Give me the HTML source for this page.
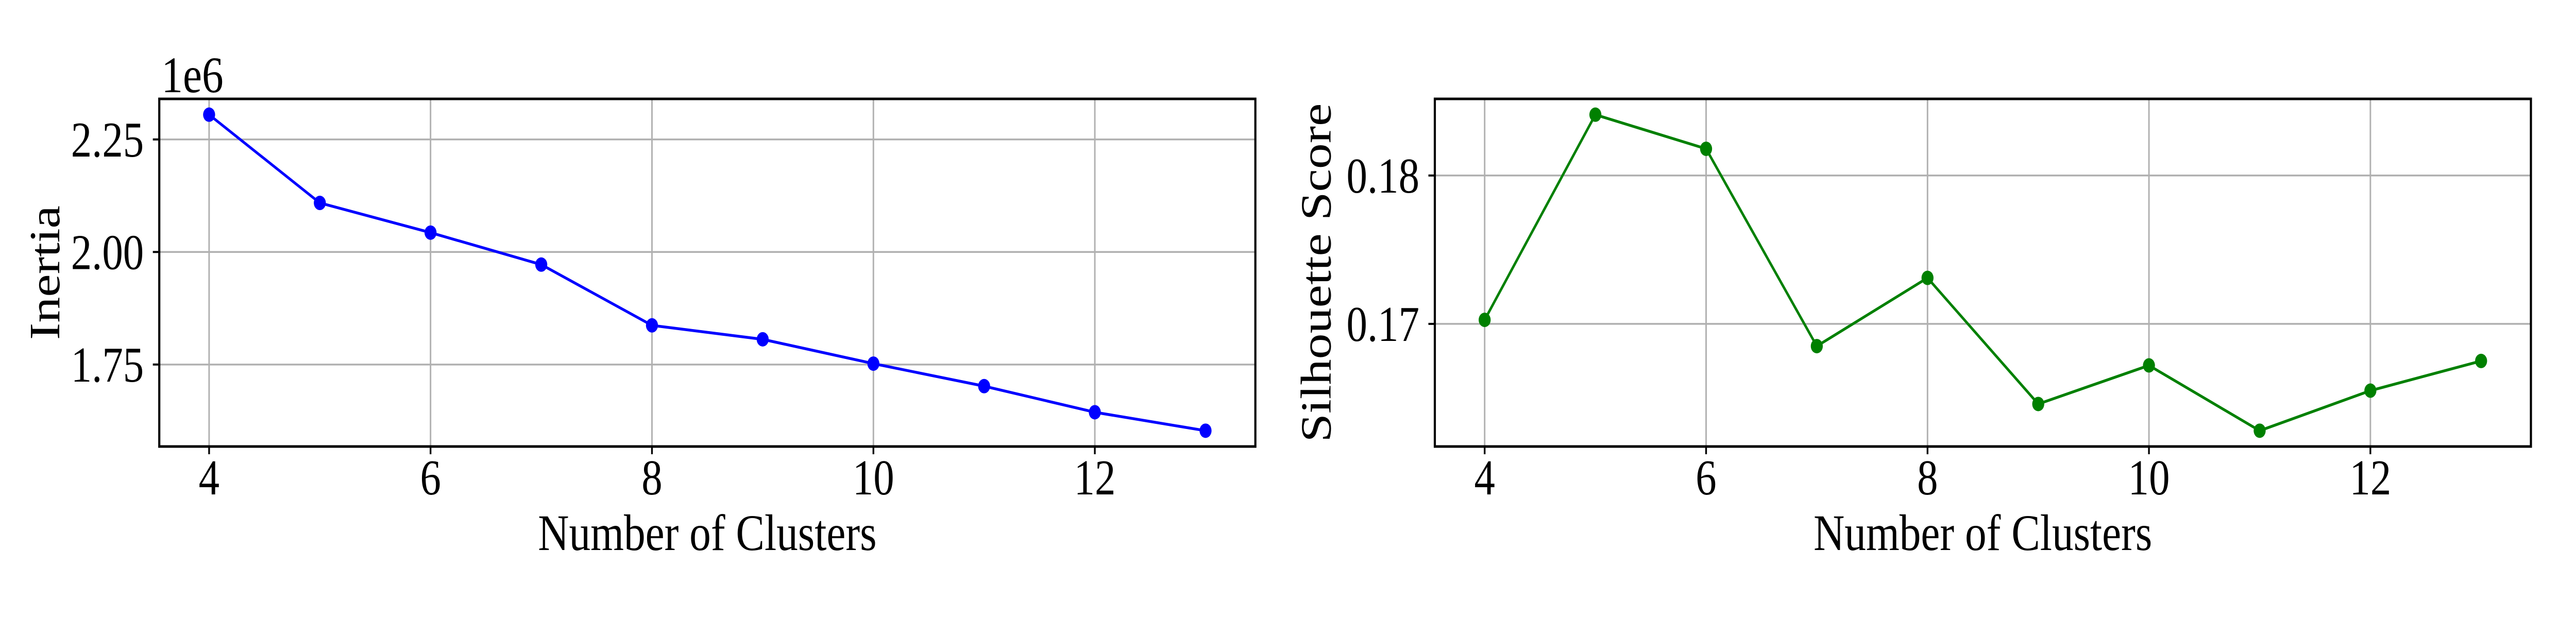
<!DOCTYPE html>
<html><head><meta charset="utf-8"><style>
html,body{margin:0;padding:0;background:#fff;width:100%;height:100%;overflow:hidden;}
svg{display:block;width:100vw;height:100vh;font-family:"Liberation Serif","DejaVu Serif",serif;}
</style></head><body>
<svg id="fig" viewBox="0 0 6000 1200" preserveAspectRatio="none" xmlns="http://www.w3.org/2000/svg"></svg>
<script>
const clusters = [4,5,6,7,8,9,10,11,12,13];
const inertiaValues = [2.305,2.109,2.043,1.972,1.837,1.806,1.752,1.702,1.644,1.603];
const silhouetteValues = [0.17027,0.1841,0.1818,0.1685,0.1731,0.1646,0.1672,0.1628,0.1655,0.1675];
const xTicks = [4,6,8,10,12];
const inertiaTicks = [1.75,2.00,2.25];
const inertiaTickLabels = ["1.75","2.00","2.25"];
const silTicks = [0.17,0.18];
const silTickLabels = ["0.17","0.18"];

const NS="http://www.w3.org/2000/svg";
const svg=document.getElementById('fig');
function mk(tag,attrs,parent){const e=document.createElementNS(NS,tag);for(const k in attrs)e.setAttribute(k,attrs[k]);(parent||svg).appendChild(e);return e;}

function panel(cfg){
  const g=mk('g',{});
  
  
  const L=cfg.left,R=cfg.right,T=cfg.top,B=cfg.bottom;
  const xmin=Math.min(...clusters),xmax=Math.max(...clusters),xm=(xmax-xmin)*0.05;
  const ymin=Math.min(...cfg.values),ymax=Math.max(...cfg.values),ym=(ymax-ymin)*0.05;
  const xs=v=>L+(v-(xmin-xm))/((xmax+xm)-(xmin-xm))*(R-L);
  const ys=v=>B-(v-(ymin-ym))/((ymax+ym)-(ymin-ym))*(B-T);
  xTicks.forEach(t=>{
    const l=mk('line',{x1:xs(t),x2:xs(t),y1:T,y2:B,stroke:'#b0b0b0','stroke-width':3.5},g);
    
    
  });
  cfg.ticks.forEach(t=>{
    const l=mk('line',{x1:L,x2:R,y1:ys(t),y2:ys(t),stroke:'#b0b0b0','stroke-width':3.5},g);
    
    
  });
  const pts=clusters.map((c,i)=>xs(c)+','+ys(cfg.values[i])).join(' ');
  const pl=mk('polyline',{points:pts,fill:'none',stroke:cfg.color,'stroke-width':5.5,'stroke-linejoin':'round'},g);
  
  
  clusters.forEach((c,i)=>{
    const m=mk('circle',{cx:xs(c),cy:ys(cfg.values[i]),r:14,fill:cfg.color},g);
    
    
  });
  const fr=mk('rect',{x:L,y:T,width:R-L,height:B-T,fill:'none',stroke:'#000','stroke-width':5},g);
  
  
  xTicks.forEach(t=>{
    mk('line',{x1:xs(t),x2:xs(t),y1:B,y2:B+15,stroke:'#000','stroke-width':4},g);
    const tx=mk('text',{x:xs(t),y:960,'font-size':97,'text-anchor':'middle',fill:'#000'},g);
    tx.textContent=t;
    
    
  });
  cfg.ticks.forEach((t,i)=>{
    mk('line',{x1:L-15,x2:L,y1:ys(t),y2:ys(t),stroke:'#000','stroke-width':4},g);
    const tx=mk('text',{x:L-36,y:ys(t)+33,'font-size':97,'text-anchor':'end',fill:'#000'},g);
    tx.textContent=cfg.tickLabels[i];
    
    
  });
  const xl=mk('text',{x:(L+R)/2,y:1068,'font-size':100,'text-anchor':'middle',fill:'#000'},g);
  xl.textContent='Number of Clusters';
  
  
  const yc=(T+B)/2;
  const yl=mk('text',{x:cfg.ylabelX,y:yc,'font-size':100,'text-anchor':'middle',fill:'#000',transform:`rotate(-90 ${cfg.ylabelX} ${yc})`},g);
  yl.textContent=cfg.ylabel;
  
  
  return g;
}
panel({name:'inertia-chart',series:'inertia',left:371,right:2924,top:192,bottom:867,values:inertiaValues,ticks:inertiaTicks,tickLabels:inertiaTickLabels,color:'#0000ff',ylabel:'Inertia',ylabelX:138});
panel({name:'silhouette-chart',series:'silhouette',left:3342,right:5895,top:192,bottom:867,values:silhouetteValues,ticks:silTicks,tickLabels:silTickLabels,color:'#008000',ylabel:'Silhouette Score',ylabelX:3099});
const off=mk('text',{x:376,y:179,'font-size':100,fill:'#000'});
off.textContent='1e6';


</script>
</body></html>
